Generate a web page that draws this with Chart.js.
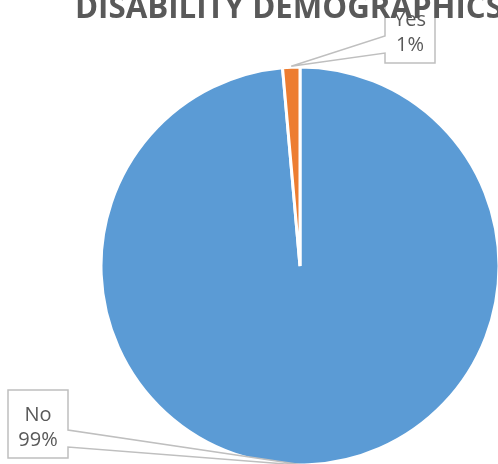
<!DOCTYPE html>
<html><head><meta charset="utf-8">
<script src="https://cdn.jsdelivr.net/npm/chart.js@4"></script>
<style>html,body{margin:0;padding:0;background:#fff;overflow:hidden;width:498px;height:464px;position:relative}
canvas{position:absolute;left:0;top:0}</style></head>
<body><canvas id="c" width="600" height="464"></canvas>
<script>
const chartTitle = 'DISABILITY DEMOGRAPHICS';
const categories = ['No', 'Yes'];
const values = [98.6, 1.4];
const sliceColors = ['#5B9BD5', '#ED7D31'];

const total = values.reduce((a, b) => a + b, 0);
const pctLabels = values.map(v => Math.round(v / total * 100) + '%');

// callout box layout (x, y, w, h, side of pointer, pointer base y1/y2)
const calloutLayout = [
  {x: 8, y: 390, w: 60, h: 68, side: 'right', p1: 430, p2: 447},
  {x: 385, y: -5, w: 50, h: 68, side: 'left', p1: 36, p2: 53}
];

const calloutPlugin = {
  id: 'callouts',
  afterDatasetsDraw(chart) {
    const ctx = chart.ctx;
    const meta = chart.getDatasetMeta(0);
    meta.data.forEach((arc, i) => {
      const p = arc.getProps(['x', 'y', 'startAngle', 'endAngle', 'outerRadius'], true);
      const mid = (p.startAngle + p.endAngle) / 2;
      const tx = p.x + Math.cos(mid) * (p.outerRadius + 1);
      const ty = p.y + Math.sin(mid) * (p.outerRadius + 1);
      const b = calloutLayout[i];
      ctx.save();
      ctx.beginPath();
      if (b.side === 'left') {
        ctx.moveTo(b.x, b.y);
        ctx.lineTo(b.x + b.w, b.y);
        ctx.lineTo(b.x + b.w, b.y + b.h);
        ctx.lineTo(b.x, b.y + b.h);
        ctx.lineTo(b.x, b.p2);
        ctx.lineTo(tx, ty);
        ctx.lineTo(b.x, b.p1);
      } else {
        ctx.moveTo(b.x, b.y);
        ctx.lineTo(b.x + b.w, b.y);
        ctx.lineTo(b.x + b.w, b.p1);
        ctx.lineTo(tx, ty);
        ctx.lineTo(b.x + b.w, b.p2);
        ctx.lineTo(b.x + b.w, b.y + b.h);
        ctx.lineTo(b.x, b.y + b.h);
      }
      ctx.closePath();
      ctx.fillStyle = '#ffffff';
      ctx.fill();
      ctx.lineWidth = 1.5;
      ctx.strokeStyle = '#BFBFBF';
      ctx.lineJoin = 'miter';
      ctx.stroke();
      ctx.fillStyle = '#595959';
      ctx.font = '20px "Open Sans"';
      ctx.textAlign = 'center';
      ctx.textBaseline = 'middle';
      const cx = b.x + b.w / 2;
      ctx.fillText(categories[i], cx, b.y + 25.5);
      ctx.fillText(pctLabels[i], cx, b.y + 50.5);
      ctx.restore();
    });
  },
  afterDraw(chart) {
    const ctx = chart.ctx;
    ctx.save();
    ctx.font = 'bold 100px "Open Sans"';
    const w = ctx.measureText(chartTitle).width;
    const size = 100 * 428 / w;
    ctx.font = 'bold ' + size.toFixed(2) + 'px "Open Sans"';
    ctx.fillStyle = '#595959';
    ctx.textAlign = 'left';
    ctx.textBaseline = 'alphabetic';
    ctx.fillText(chartTitle, 75, 17.5);
    ctx.restore();
  }
};

new Chart(document.getElementById('c'), {
  type: 'pie',
  data: {
    labels: categories,
    datasets: [{
      data: values,
      backgroundColor: sliceColors,
      borderColor: '#ffffff',
      borderWidth: 3
    }]
  },
  options: {
    responsive: false,
    devicePixelRatio: 1,
    animation: false,
    radius: 199,
    layout: {padding: {left: 102, right: 102, top: 68, bottom: 0}},
    plugins: {legend: {display: false}, tooltip: {enabled: false}, title: {display: false}}
  },
  plugins: [calloutPlugin]
});
</script>
</body></html>
